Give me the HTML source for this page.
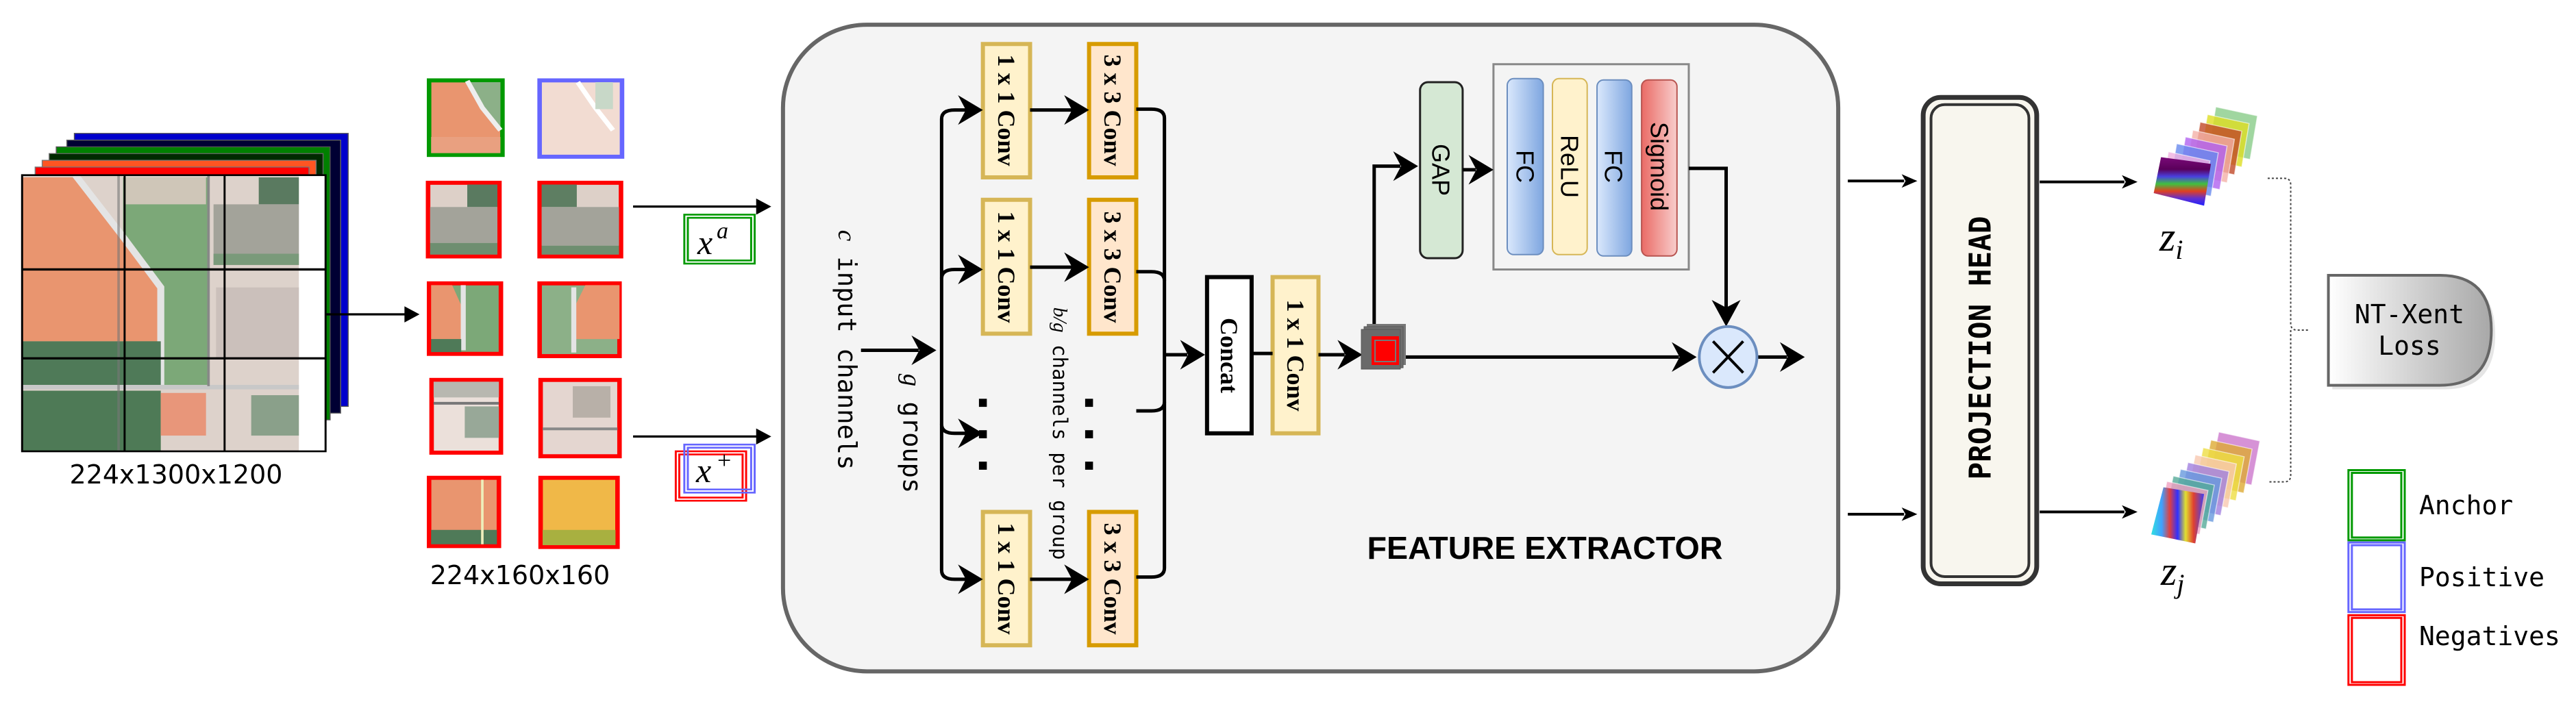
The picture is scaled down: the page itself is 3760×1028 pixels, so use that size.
<!DOCTYPE html>
<html><head><meta charset="utf-8"><style>
html,body{margin:0;padding:0;background:#fff}
svg{display:block}
.m{font-family:"DejaVu Sans Mono","Liberation Mono",monospace}
.s{font-family:"Liberation Serif",serif}
.a{font-family:"Liberation Sans",sans-serif}
</style></head><body>
<svg width="3760" height="1028" viewBox="0 0 3760 1028" xmlns="http://www.w3.org/2000/svg">
<defs>
<clipPath id="fc"><rect x="44" y="390" width="551" height="615"/></clipPath>
<linearGradient id="gb" x1="0" x2="1"><stop offset="0" stop-color="#dae8fc"/><stop offset="1" stop-color="#7ea6e0"/></linearGradient>
<linearGradient id="gr" x1="0" x2="1"><stop offset="0" stop-color="#ea6b66"/><stop offset="1" stop-color="#f8cecc"/></linearGradient>
<linearGradient id="gl" x1="0" x2="1"><stop offset="0" stop-color="#ffffff"/><stop offset="1" stop-color="#a8a8a8"/></linearGradient>
<linearGradient id="zi" x1="0" x2="0" y1="0" y2="1"><stop offset="0" stop-color="#7a0a78"/><stop offset="0.25" stop-color="#5a005a"/><stop offset="0.4" stop-color="#4a40e0"/><stop offset="0.55" stop-color="#40c040"/><stop offset="0.7" stop-color="#e04020"/><stop offset="0.85" stop-color="#6030d0"/><stop offset="1" stop-color="#2020ff"/></linearGradient>
<linearGradient id="zj" x1="0" x2="1"><stop offset="0" stop-color="#30e0e0"/><stop offset="0.2" stop-color="#40a0ff"/><stop offset="0.35" stop-color="#e04040"/><stop offset="0.5" stop-color="#3030ff"/><stop offset="0.65" stop-color="#e0e030"/><stop offset="0.8" stop-color="#e04030"/><stop offset="1" stop-color="#4040f0"/></linearGradient>
</defs>

<!-- LEFT (zoom1 coordinates) -->
<g transform="scale(0.73337,0.65574)">
 <rect x="148" y="297" width="545" height="608" fill="#0000cc" stroke="#555" stroke-width="2"/>
 <rect x="133" y="312" width="545" height="608" fill="#000033" stroke="#666" stroke-width="2"/>
 <rect x="112" y="327" width="545" height="608" fill="#008000" stroke="#555" stroke-width="2"/>
 <rect x="98" y="342" width="545" height="608" fill="#002a00" stroke="#666" stroke-width="2"/>
 <rect x="84" y="357" width="545" height="608" fill="#ff5522" stroke="#777" stroke-width="2"/>
 <rect x="70" y="372" width="545" height="608" fill="#ff0000" stroke="#777" stroke-width="2"/>
 <rect x="44" y="390" width="604" height="615" fill="#fff"/>
 <g clip-path="url(#fc)">
  <rect x="44" y="390" width="551" height="615" fill="#ddd2cb"/>
  <rect x="245" y="395" width="170" height="465" fill="#7ca878"/>
  <rect x="250" y="395" width="160" height="60" fill="#cfc6b8"/>
  <polygon points="44,395 150,395 240,520 320,640 320,760 44,760" fill="#e9956f"/>
  <polyline points="150,390 240,520 320,640 320,860" fill="none" stroke="#e4e4e4" stroke-width="14"/>
  <rect x="44" y="760" width="276" height="100" fill="#4f7a58"/>
  <rect x="44" y="870" width="276" height="135" fill="#4e7a56"/>
  <rect x="320" y="875" width="90" height="95" fill="#e8967a"/>
  <rect x="515" y="395" width="80" height="60" fill="#5a7a60"/>
  <rect x="425" y="455" width="170" height="135" fill="#a3a39a"/>
  <rect x="425" y="565" width="170" height="25" fill="#7a9a7a"/>
  <rect x="430" y="640" width="165" height="160" fill="#cbc0bb"/>
  <rect x="500" y="880" width="95" height="90" fill="#8aa08a"/>
  <line x1="44" y1="862" x2="595" y2="862" stroke="#c8c8c8" stroke-width="10"/>
  <line x1="415" y1="390" x2="415" y2="860" stroke="#888" stroke-width="5"/>
  <line x1="236" y1="390" x2="236" y2="1005" stroke="#777" stroke-width="5" opacity="0.6"/>
 </g>
 <rect x="44" y="390" width="604" height="615" fill="none" stroke="#000" stroke-width="4"/>
 <line x1="248" y1="390" x2="248" y2="1005" stroke="#000" stroke-width="4"/>
 <line x1="447" y1="390" x2="447" y2="1005" stroke="#000" stroke-width="4"/>
 <line x1="44" y1="600" x2="648" y2="600" stroke="#000" stroke-width="5"/>
 <line x1="44" y1="798" x2="648" y2="798" stroke="#000" stroke-width="5"/>
 <line x1="648" y1="700" x2="815" y2="700" stroke="#000" stroke-width="5"/>
 <polygon points="835,700 805,682 805,718" fill="#000"/>

 <!-- patches -->
 <g stroke-width="9">
  <rect x="854" y="179" width="146" height="166" fill="#e9956f" stroke="#009900"/>
  <polygon points="930,183 996,183 996,290" fill="#8cb088"/>
  <polyline points="930,180 960,240 996,290" fill="none" stroke="#eee" stroke-width="10"/>
  <rect x="858" y="305" width="138" height="36" fill="#e9a080"/>

  <rect x="1074" y="179" width="164" height="170" fill="#f2dcd2" stroke="#6666ff"/>
  <polyline points="1150,183 1185,240 1220,290" fill="none" stroke="#fff" stroke-width="10"/>
  <rect x="1185" y="183" width="35" height="60" fill="#c8d8c8"/>

  <rect x="852" y="407" width="142" height="164" fill="#ddd0c8" stroke="#ff0000"/>
  <rect x="930" y="411" width="60" height="50" fill="#5a7a60"/>
  <rect x="856" y="461" width="134" height="80" fill="#a3a39a"/>
  <rect x="856" y="541" width="134" height="26" fill="#6e8e70"/>

  <rect x="1074" y="407" width="162" height="164" fill="#ddd0c8" stroke="#ff0000"/>
  <rect x="1078" y="411" width="70" height="50" fill="#5e7e62"/>
  <rect x="1078" y="461" width="154" height="86" fill="#a3a39a"/>
  <rect x="1078" y="547" width="154" height="20" fill="#6e8e70"/>

  <rect x="854" y="631" width="143" height="157" fill="#7ca878" stroke="#ff0000"/>
  <polygon points="858,635 900,635 918,680 918,755 858,755" fill="#e9956f"/>
  <line x1="922" y1="635" x2="922" y2="780" stroke="#e4e4e4" stroke-width="10"/>
  <rect x="858" y="755" width="60" height="29" fill="#4f7a58"/>

  <rect x="1074" y="631" width="159" height="162" fill="#8cb088" stroke="#ff0000"/>
  <polygon points="1233,635 1165,635 1145,680 1145,755 1233,755" fill="#e9956f"/>
  <line x1="1142" y1="640" x2="1142" y2="785" stroke="#e4e4e4" stroke-width="10"/>

  <rect x="859" y="846" width="138" height="162" fill="#ebe0da" stroke="#ff0000"/>
  <rect x="863" y="850" width="130" height="35" fill="#b8b8b0"/>
  <rect x="925" y="905" width="68" height="70" fill="#98a898"/>
  <line x1="863" y1="898" x2="993" y2="898" stroke="#777" stroke-width="6"/>

  <rect x="1076" y="846" width="157" height="170" fill="#e4d6d0" stroke="#ff0000"/>
  <rect x="1140" y="860" width="75" height="70" fill="#b8b0a8"/>
  <line x1="1080" y1="955" x2="1229" y2="955" stroke="#888" stroke-width="6"/>

  <rect x="854" y="1064" width="139" height="152" fill="#e9956f" stroke="#ff0000"/>
  <rect x="858" y="1180" width="131" height="32" fill="#4f7a58"/>
  <line x1="960" y1="1068" x2="960" y2="1212" stroke="#eeb" stroke-width="5"/>

  <rect x="1076" y="1064" width="153" height="154" fill="#f0b848" stroke="#ff0000"/>
  <rect x="1080" y="1180" width="145" height="34" fill="#a8b040"/>
 </g>

 <line x1="1260" y1="460" x2="1510" y2="460" stroke="#000" stroke-width="5"/>
 <polygon points="1535,460 1505,442 1505,478" fill="#000"/>
 <line x1="1260" y1="972" x2="1510" y2="972" stroke="#000" stroke-width="5"/>
 <polygon points="1535,972 1505,954 1505,990" fill="#000"/>

 <rect x="1362" y="478" width="140" height="109" fill="none" stroke="#009900" stroke-width="4"/>
 <rect x="1369" y="485" width="126" height="95" fill="#fff" stroke="#009900" stroke-width="4"/>
 <rect x="1345" y="1005" width="140" height="110" fill="none" stroke="#ff0000" stroke-width="4"/>
 <rect x="1352" y="1012" width="126" height="96" fill="none" stroke="#ff0000" stroke-width="4"/>
 <rect x="1362" y="990" width="140" height="107" fill="none" stroke="#6666ff" stroke-width="4"/>
 <rect x="1369" y="997" width="126" height="93" fill="none" stroke="#6666ff" stroke-width="4"/>
</g>
<text x="257" y="706" text-anchor="middle" font-family="DejaVu Sans,sans-serif" font-size="38">224x1300x1200</text>
<text x="759" y="853" text-anchor="middle" font-family="DejaVu Sans,sans-serif" font-size="38">224x160x160</text>
<text x="1018" y="371" class="s" font-style="italic" font-size="50">x</text>
<text x="1046" y="348" class="s" font-style="italic" font-size="34">a</text>
<text x="1016" y="704" class="s" font-style="italic" font-size="50">x</text>
<text x="1047" y="684" class="s" font-size="36">+</text>

<!-- MIDDLE (zoom2 coordinates) -->
<g transform="translate(1140,0) scale(0.95667,0.65574)">
 <rect x="3" y="55" width="1610" height="1440" rx="128" ry="185" fill="#f4f4f4" stroke="#666" stroke-width="6" vector-effect="non-scaling-stroke"/>
 <g stroke-width="6" vector-effect="non-scaling-stroke">
  <rect x="308" y="98" width="72" height="297" fill="#fff2cc" stroke="#d6b656" stroke-width="6" vector-effect="non-scaling-stroke"/>
  <rect x="308" y="445" width="72" height="298" fill="#fff2cc" stroke="#d6b656" stroke-width="6" vector-effect="non-scaling-stroke"/>
  <rect x="308" y="1140" width="72" height="297" fill="#fff2cc" stroke="#d6b656" stroke-width="6" vector-effect="non-scaling-stroke"/>
  <rect x="470" y="98" width="72" height="297" fill="#ffe6cc" stroke="#d79b00" stroke-width="6" vector-effect="non-scaling-stroke"/>
  <rect x="470" y="445" width="72" height="298" fill="#ffe6cc" stroke="#d79b00" stroke-width="6" vector-effect="non-scaling-stroke"/>
  <rect x="470" y="1140" width="72" height="297" fill="#ffe6cc" stroke="#d79b00" stroke-width="6" vector-effect="non-scaling-stroke"/>
  <rect x="650" y="617" width="68" height="348" fill="#fff" stroke="#000" stroke-width="6" vector-effect="non-scaling-stroke"/>
  <rect x="750" y="617" width="70" height="348" fill="#fff2cc" stroke="#d6b656" stroke-width="6" vector-effect="non-scaling-stroke"/>
  <rect x="975" y="183" width="65" height="392" rx="12" ry="18" fill="#d5e8d4" stroke="#222" stroke-width="3" vector-effect="non-scaling-stroke"/>
  <rect x="1087" y="143" width="298" height="457" fill="#f4f4f4" stroke="#888" stroke-width="3" vector-effect="non-scaling-stroke"/>
  <rect x="1108" y="175" width="55" height="392" rx="10" ry="15" fill="url(#gb)" stroke="#6c8ebf" stroke-width="2" vector-effect="non-scaling-stroke"/>
  <rect x="1177" y="175" width="53" height="392" rx="10" ry="15" fill="#fff2cc" stroke="#d6b656" stroke-width="2" vector-effect="non-scaling-stroke"/>
  <rect x="1245" y="178" width="53" height="392" rx="10" ry="15" fill="url(#gb)" stroke="#6c8ebf" stroke-width="2" vector-effect="non-scaling-stroke"/>
  <rect x="1313" y="178" width="54" height="392" rx="10" ry="15" fill="url(#gr)" stroke="#b85450" stroke-width="2" vector-effect="non-scaling-stroke"/>
 </g>
 <g fill="none" stroke="#000" stroke-width="5">
  <path vector-effect="non-scaling-stroke" d="M285,245 L265,245 Q245,245 245,265 L245,1270 Q245,1290 265,1290 L285,1290"/>
  <path vector-effect="non-scaling-stroke" d="M245,620 Q245,600 265,600 L285,600"/>
  <path vector-effect="non-scaling-stroke" d="M245,945 Q245,965 265,965 L285,965"/>
  <path vector-effect="non-scaling-stroke" d="M122,780 L210,780"/>
  <path vector-effect="non-scaling-stroke" d="M380,245 L445,245 M380,595 L445,595 M380,1290 L445,1290"/>
  <path vector-effect="non-scaling-stroke" d="M542,243 L565,243 Q585,243 585,263 L585,1265 Q585,1285 565,1285 L542,1285"/>
  <path vector-effect="non-scaling-stroke" d="M542,605 L565,605 Q585,605 585,625"/>
  <path vector-effect="non-scaling-stroke" d="M542,915 L565,915 Q585,915 585,895"/>
  <path vector-effect="non-scaling-stroke" d="M585,790 L620,790"/>
  <path vector-effect="non-scaling-stroke" d="M718,787 L750,787"/>
  <path vector-effect="non-scaling-stroke" d="M820,790 L860,790"/>
  <path vector-effect="non-scaling-stroke" d="M950,795 L1370,795"/>
  <path vector-effect="non-scaling-stroke" d="M1490,795 L1535,795"/>
  <path vector-effect="non-scaling-stroke" d="M905,725 L905,370 L945,370"/>
  <path vector-effect="non-scaling-stroke" d="M1040,378 L1060,378"/>
  <path vector-effect="non-scaling-stroke" d="M1385,375 L1442,375 L1442,690"/>
 </g>
 <g fill="#000">
  <polygon points="308,245 270,212 282,245 270,278"/>
  <polygon points="308,600 270,567 282,600 270,633"/>
  <polygon points="308,965 270,932 282,965 270,998"/>
  <polygon points="308,1290 270,1257 282,1290 270,1323"/>
  <polygon points="237,780 199,747 211,780 199,813"/>
  <polygon points="470,245 432,212 444,245 432,278"/>
  <polygon points="470,595 432,562 444,595 432,628"/>
  <polygon points="470,1290 432,1257 444,1290 432,1323"/>
  <polygon points="647,790 609,757 621,790 609,823"/>
  <polygon points="887,790 849,757 861,790 849,823"/>
  <polygon points="1397,795 1359,762 1371,795 1359,828"/>
  <polygon points="1562,795 1524,762 1536,795 1524,828"/>
  <polygon points="972,370 934,337 946,370 934,403"/>
  <polygon points="1087,378 1049,345 1061,378 1049,411"/>
  <polygon points="1442,727 1420,668 1442,685 1464,668"/>
  <rect x="302" y="888" width="12" height="18"/><rect x="302" y="958" width="12" height="18"/><rect x="302" y="1028" width="12" height="18"/>
  <rect x="464" y="888" width="12" height="18"/><rect x="464" y="958" width="12" height="18"/><rect x="464" y="1028" width="12" height="18"/>
 </g>
 <ellipse cx="1445" cy="795" rx="44" ry="68" fill="#dae8fc" stroke="#6c8ebf" stroke-width="4" vector-effect="non-scaling-stroke"/>
 <path d="M1422,760 L1468,830 M1468,760 L1422,830" stroke="#000" stroke-width="4" vector-effect="non-scaling-stroke"/>
</g>
<!-- feature map icon -->
<rect x="1995" y="473" width="57" height="60" fill="#777"/>
<rect x="1991" y="477" width="57" height="60" fill="#6e6e6e" stroke="#555" stroke-width="1"/>
<rect x="1987" y="481" width="57" height="58" fill="#6a6a6a" stroke="#555" stroke-width="1"/>
<rect x="2002" y="491" width="40" height="42" fill="#ff0000"/>
<rect x="2007" y="497" width="30" height="31" fill="#ff0000" stroke="#777" stroke-width="2"/>

<g font-weight="bold" font-size="36" class="s" text-anchor="middle" dominant-baseline="central">
 <text transform="translate(1469,161) rotate(90)">1 x 1 Conv</text>
 <text transform="translate(1469,390) rotate(90)">1 x 1 Conv</text>
 <text transform="translate(1469,845) rotate(90)">1 x 1 Conv</text>
 <text transform="translate(1624,161) rotate(90)">3 x 3 Conv</text>
 <text transform="translate(1624,390) rotate(90)">3 x 3 Conv</text>
 <text transform="translate(1624,845) rotate(90)">3 x 3 Conv</text>
 <text transform="translate(1794,519) rotate(90)">Concat</text>
 <text transform="translate(1891,519) rotate(90)">1 x 1 Conv</text>
</g>
<g class="a" font-size="36" text-anchor="middle" dominant-baseline="central">
 <text transform="translate(2103,248) rotate(90)">GAP</text>
 <text transform="translate(2226,243) rotate(90)">FC</text>
 <text transform="translate(2291,243) rotate(90)">ReLU</text>
 <text transform="translate(2355,243) rotate(90)">FC</text>
 <text transform="translate(2422,243) rotate(90)">Sigmoid</text>
</g>
<g class="m" text-anchor="middle" dominant-baseline="central">
 <text transform="translate(1236,511) rotate(90)" font-size="37"><tspan class="s" font-style="italic">c</tspan> input channels</text>
 <text transform="translate(1331,633) rotate(90)" font-size="37"><tspan class="s" font-style="italic">g</tspan> groups</text>
 <text transform="translate(1547,633) rotate(90)" font-size="29"><tspan class="s" font-style="italic">b/g</tspan> channels per group</text>
</g>
<text x="2255" y="816" text-anchor="middle" class="a" font-weight="bold" font-size="46" textLength="519" lengthAdjust="spacingAndGlyphs">FEATURE EXTRACTOR</text>

<!-- RIGHT (zoom3 coordinates) -->
<g transform="translate(2640,0) scale(0.71429,0.65574)">
 <g stroke="#000" stroke-width="4" fill="none">
  <path vector-effect="non-scaling-stroke" d="M80,403 L195,403 M80,1145 L195,1145 M472,405 L645,405 M472,1140 L645,1140"/>
 </g>
 <g fill="#000">
  <polygon points="222,403 190,388 198,403 190,418"/>
  <polygon points="222,1145 190,1130 198,1145 190,1160"/>
  <polygon points="672,405 640,390 648,405 640,420"/>
  <polygon points="672,1140 640,1125 648,1140 640,1155"/>
 </g>
 <rect x="234" y="217" width="232" height="1083" rx="36" ry="40" fill="#f8f6ee" stroke="#333" stroke-width="7" vector-effect="non-scaling-stroke"/>
 <rect x="250" y="233" width="200" height="1051" rx="28" ry="30" fill="none" stroke="#333" stroke-width="4" vector-effect="non-scaling-stroke"/>

 <!-- z_i stack -->
 <g stroke="#fff" stroke-opacity="0.6" stroke-width="2" fill-opacity="0.8">
  <polygon points="832,238 917,258 902,355 817,335" fill="#88cc88"/>
  <polygon points="815,255 900,275 885,372 800,352" fill="#dddd22"/>
  <polygon points="800,272 885,292 870,389 785,369" fill="#c04828"/>
  <polygon points="785,290 870,310 855,407 770,387" fill="#f4b0a8"/>
  <polygon points="770,305 855,325 840,422 755,402" fill="#b060f0"/>
  <polygon points="752,320 837,340 822,437 737,417" fill="#6688ee"/>
  <polygon points="735,338 820,358 805,455 720,435" fill="#f0b0e0"/>
 </g>
 <polygon points="720,350 822,365 808,458 705,430" fill="url(#zi)"/>

 <!-- z_j stack -->
 <g stroke="#fff" stroke-opacity="0.6" stroke-width="2" fill-opacity="0.8">
  <polygon points="838,962 922,982 905,1080 820,1060" fill="#cc77cc"/>
  <polygon points="822,980 906,1000 889,1098 804,1078" fill="#ddaa33"/>
  <polygon points="806,997 890,1017 873,1115 788,1095" fill="#eedd44"/>
  <polygon points="790,1013 874,1033 857,1131 772,1111" fill="#f8c8b0"/>
  <polygon points="775,1030 859,1050 842,1148 757,1128" fill="#a080e0"/>
  <polygon points="760,1045 844,1065 827,1163 742,1143" fill="#6699dd"/>
  <polygon points="745,1060 829,1080 812,1178 727,1158" fill="#55aa99"/>
  <polygon points="732,1072 816,1092 799,1190 714,1170" fill="#f0a0c0"/>
 </g>
 <polygon points="725,1085 808,1100 790,1210 700,1190" fill="url(#zj)"/>

 <path d="M938,397 L972,397 Q985,397 985,412 L985,720 Q985,735 998,735 L1022,735 M985,735 L985,1058 Q985,1073 972,1073 L938,1073" fill="none" stroke="#444" stroke-width="2" stroke-dasharray="3 3" vector-effect="non-scaling-stroke"/>

 <path d="M1070,622 L1300,622 Q1403,622 1403,745 Q1403,867 1300,867 L1070,867 Z" fill="#ccc" opacity="0.5"/>
 <path d="M1062,613 L1290,613 Q1395,613 1395,735 Q1395,858 1290,858 L1062,858 Z" fill="url(#gl)" stroke="#666" stroke-width="4" vector-effect="non-scaling-stroke"/>

 <rect x="1103" y="1047" width="115" height="156" fill="none" stroke="#009900" stroke-width="3" vector-effect="non-scaling-stroke"/>
 <rect x="1110" y="1053" width="101" height="144" fill="none" stroke="#009900" stroke-width="3" vector-effect="non-scaling-stroke"/>
 <rect x="1103" y="1208" width="115" height="155" fill="none" stroke="#6666ff" stroke-width="3" vector-effect="non-scaling-stroke"/>
 <rect x="1110" y="1214" width="101" height="143" fill="none" stroke="#6666ff" stroke-width="3" vector-effect="non-scaling-stroke"/>
 <rect x="1103" y="1370" width="115" height="155" fill="none" stroke="#ff0000" stroke-width="3" vector-effect="non-scaling-stroke"/>
 <rect x="1110" y="1376" width="101" height="143" fill="none" stroke="#ff0000" stroke-width="3" vector-effect="non-scaling-stroke"/>
</g>
<text transform="translate(2891,508) rotate(-90)" text-anchor="middle" dominant-baseline="central" class="m" font-weight="bold" font-size="44" textLength="385" lengthAdjust="spacingAndGlyphs">PROJECTION HEAD</text>
<text x="3152" y="366" class="s" font-style="italic" font-size="60">z<tspan font-size="40" dy="12">i</tspan></text>
<text x="3154" y="854" class="s" font-style="italic" font-size="60">z<tspan font-size="40" dy="12">j</tspan></text>
<g class="m" font-size="38">
 <text x="3517" y="472" text-anchor="middle">NT-Xent</text>
 <text x="3517" y="518" text-anchor="middle">Loss</text>
 <text x="3531" y="751">Anchor</text>
 <text x="3531" y="856">Positive</text>
 <text x="3531" y="942">Negatives</text>
</g>
</svg>
</body></html>
